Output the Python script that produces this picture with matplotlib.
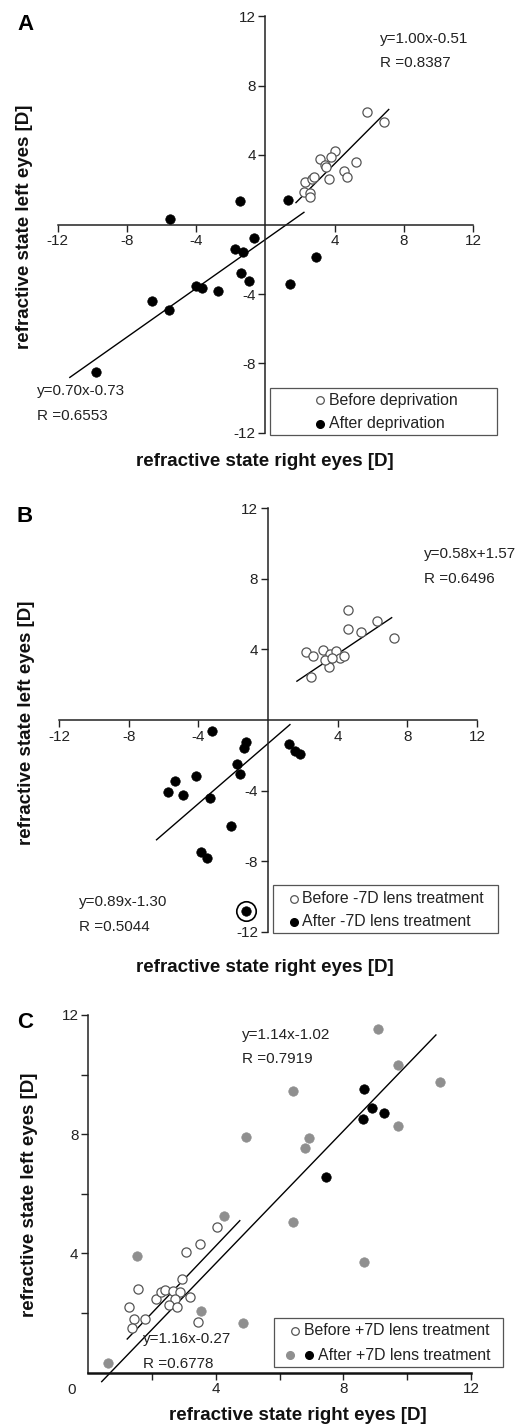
import matplotlib
matplotlib.use('Agg')
import matplotlib.pyplot as plt
from matplotlib.lines import Line2D
from matplotlib.patches import Rectangle

plt.rcParams['font.family'] = ['Liberation Sans', 'DejaVu Sans']

# ---------------- data ----------------
# Panel A
a_before_x = [5.85, 6.87, 4.05, 3.77, 3.18, 3.45, 3.48, 3.66, 5.22, 4.53, 4.70, 2.31, 2.68, 2.80, 2.21, 2.60, 2.56]
a_before_y = [6.48, 5.88, 4.21, 3.88, 3.79, 3.45, 3.30, 2.61, 3.60, 3.06, 2.71, 2.44, 2.60, 2.72, 1.87, 1.80, 1.59]
a_after_x = [-9.80, -6.57, -5.59, -5.49, -4.01, -3.68, -2.72, -1.48, -1.74, -1.30, -1.38, -0.93, -0.66, 1.33, 2.90, 1.40]
a_after_y = [-8.51, -4.43, -4.93, 0.30, -3.52, -3.67, -3.85, 1.34, -1.43, -1.59, -2.80, -3.27, -0.78, 1.42, -1.88, -3.45]
a_fit_before_x = [1.77, 7.13]
a_fit_before_y = [1.26, 6.62]
a_fit_after_x = [-11.30, 2.23]
a_fit_after_y = [-8.80, 0.70]

# Panel B
b_before_x = [4.61, 6.25, 4.61, 5.33, 7.24, 2.21, 2.59, 3.14, 3.56, 3.90, 3.43, 3.49, 4.15, 4.34, 2.48, 3.30, 3.70]
b_before_y = [6.22, 5.59, 5.14, 4.99, 4.64, 3.85, 3.60, 3.94, 3.75, 3.89, 3.32, 3.00, 3.51, 3.62, 2.46, 3.40, 3.50]
b_after_x = [-3.23, -1.28, -1.36, 1.20, 1.57, 1.83, -1.80, -1.62, -4.16, -5.35, -5.72, -4.86, -3.33, -2.12, -3.86, -3.53, -1.28]
b_after_y = [-0.63, -1.26, -1.56, -1.38, -1.75, -1.93, -2.52, -3.06, -3.19, -3.47, -4.08, -4.27, -4.42, -6.01, -7.48, -7.85, -10.80]
b_ringed_x = [-1.28]
b_ringed_y = [-10.80]
b_fit_before_x = [1.66, 7.10]
b_fit_before_y = [2.20, 5.80]
b_fit_after_x = [-6.40, 1.26]
b_fit_after_y = [-6.79, -0.26]

# Panel C
c_before_x = [4.04, 3.50, 3.05, 2.95, 1.57, 2.11, 2.28, 2.40, 2.66, 2.87, 2.72, 2.54, 2.77, 3.19, 1.27, 1.43, 1.78, 1.38, 3.43]
c_before_y = [4.88, 4.32, 4.04, 3.14, 2.81, 2.47, 2.70, 2.77, 2.75, 2.72, 2.47, 2.27, 2.21, 2.55, 2.21, 1.80, 1.80, 1.49, 1.69]
c_after_grey_x = [0.63, 1.52, 3.53, 4.25, 4.84, 4.94, 6.43, 6.43, 6.81, 6.92, 8.64, 9.09, 9.72, 9.70, 11.04]
c_after_grey_y = [0.31, 3.91, 2.08, 5.27, 1.66, 7.92, 9.45, 5.04, 7.55, 7.86, 3.72, 11.52, 10.32, 8.28, 9.74]
c_after_black_x = [8.64, 8.62, 8.90, 9.28, 7.44]
c_after_black_y = [9.51, 8.50, 8.89, 8.72, 6.55]
c_fit_before_x = [1.22, 4.75]
c_fit_before_y = [1.13, 5.10]
c_fit_after_x = [0.42, 10.90]
c_fit_after_y = [-0.30, 11.33]

ticks_ab = [-12, -8, -4, 4, 8, 12]
ticks_c_major = [4, 8, 12]
ticks_c_minor = [2, 6, 10]

xlabel = 'refractive state right eyes [D]'
ylabel = 'refractive state left eyes [D]'

legend_a = ['Before deprivation', 'After deprivation']
legend_b = ['Before -7D lens treatment', 'After -7D lens treatment']
legend_c = ['Before +7D lens treatment', 'After +7D lens treatment']

# ---------------- figure ----------------
W, H = 522, 1425
fig = plt.figure(figsize=(W / 100, H / 100), dpi=100)


def fx(px):
    return px / W


def fy(py):
    return 1 - py / H


def ax_px(left, right, top, bottom):
    return fig.add_axes([left / W, 1 - bottom / H, (right - left) / W, (bottom - top) / H])


OPEN = dict(marker='o', ls='none', mfc='white', mec='#555555', mew=0.9, ms=6.6)
FILL = dict(marker='o', ls='none', mfc='black', mec='black', mew=0.5, ms=6.8)
GREY = dict(marker='o', ls='none', mfc='#8f8f8f', mec='#8f8f8f', mew=0.5, ms=6.8)
TXT = dict(fontsize=11, color='#222222')
LBL = dict(fontsize=13.5, fontweight='bold', color='#111111')

L_OPEN = dict(marker='o', ls='none', mfc='white', mec='#555555', mew=0.9, ms=5.5)
L_FILL = dict(marker='o', ls='none', mfc='black', mec='black', ms=5.5)
L_GREY = dict(marker='o', ls='none', mfc='#8f8f8f', mec='#8f8f8f', ms=5.5)


def style_cross(ax):
    ax.set_xlim(-12, 12)
    ax.set_ylim(-12, 12)
    for s in ['top', 'right']:
        ax.spines[s].set_visible(False)
    ax.spines['left'].set_position(('data', 0))
    ax.spines['bottom'].set_position(('data', 0))
    for s in ['left', 'bottom']:
        ax.spines[s].set_linewidth(1.1)
        ax.spines[s].set_color('#222222')
    ax.set_xticks(ticks_ab)
    ax.set_yticks(ticks_ab)
    ax.set_xticklabels([str(t) for t in ticks_ab])
    ax.set_yticklabels([str(t) for t in ticks_ab])
    ax.tick_params(direction='out', length=5, width=1.0, labelsize=11,
                   colors='#222222', pad=2)
    ax.patch.set_visible(False)


def box_legend(box, rows):
    """box = (x0, y0, x1, y1) in pixels; rows = [(text_x, y, label, [(marker_x, style), ...])]"""
    x0, y0, x1, y1 = box
    fig.add_artist(Rectangle((fx(x0), fy(y1)), (x1 - x0) / W, (y1 - y0) / H,
                             transform=fig.transFigure, facecolor='white',
                             edgecolor='#555555', linewidth=0.9, zorder=5))
    for tx, ty, label, marks in rows:
        for mx, st in marks:
            fig.add_artist(Line2D([fx(mx)], [fy(ty)], transform=fig.transFigure, zorder=6, **st))
        fig.text(fx(tx), fy(ty), label, ha='left', va='center', fontsize=11.4,
                 color='#222222', zorder=6)


# ---------- Panel A ----------
axA = ax_px(57.7, 473, 16, 433)
style_cross(axA)
axA.plot(a_before_x, a_before_y, **OPEN, clip_on=False, zorder=3)
axA.plot(a_after_x, a_after_y, **FILL, clip_on=False, zorder=3)
axA.plot(a_fit_before_x, a_fit_before_y, color='black', lw=1.0)
axA.plot(a_fit_after_x, a_fit_after_y, color='black', lw=1.0, clip_on=False)
axA.text(6.6, 10.7, 'y=1.00x-0.51', va='center', ha='left', **TXT)
axA.text(6.6, 9.3, 'R =0.8387', va='center', ha='left', **TXT)
axA.text(-13.2, -9.6, 'y=0.70x-0.73', va='center', ha='left', **TXT, clip_on=False)
axA.text(-13.2, -11.0, 'R =0.6553', va='center', ha='left', **TXT, clip_on=False)
box_legend((270, 388, 497, 435),
           [(329, 400, legend_a[0], [(319.5, L_OPEN)]),
            (329, 423.5, legend_a[1], [(319.5, L_FILL)])])
fig.text(fx(265), fy(462), xlabel, ha='center', va='center', **LBL)
fig.text(fx(25), fy(227), ylabel, ha='center', va='center', rotation=90, **LBL)
fig.text(fx(17), fy(24), 'A', ha='left', va='center', fontsize=16, fontweight='bold')

# ---------- Panel B ----------
axB = ax_px(59, 477, 508.3, 931.7)
style_cross(axB)
axB.plot(b_before_x, b_before_y, **OPEN, clip_on=False, zorder=3)
axB.plot(b_after_x, b_after_y, **FILL, clip_on=False, zorder=3)
axB.plot(b_ringed_x, b_ringed_y, marker='o', ls='none', mfc='none', mec='black',
         mew=1.2, ms=14, clip_on=False, zorder=3)
axB.plot(b_fit_before_x, b_fit_before_y, color='black', lw=1.0)
axB.plot(b_fit_after_x, b_fit_after_y, color='black', lw=1.0)
axB.text(8.97, 9.4, 'y=0.58x+1.57', va='center', ha='left', **TXT, clip_on=False)
axB.text(8.97, 8.0, 'R =0.6496', va='center', ha='left', **TXT, clip_on=False)
axB.text(-10.86, -10.32, 'y=0.89x-1.30', va='center', ha='left', **TXT)
axB.text(-10.86, -11.74, 'R =0.5044', va='center', ha='left', **TXT, clip_on=False)
box_legend((272.7, 885, 498, 933.3),
           [(302.5, 898.5, legend_b[0], [(293.5, L_OPEN)]),
            (302.5, 921.5, legend_b[1], [(293.5, L_FILL)])])
fig.text(fx(265), fy(967), xlabel, ha='center', va='center', **LBL)
fig.text(fx(27), fy(723), ylabel, ha='center', va='center', rotation=90, **LBL)
fig.text(fx(17), fy(516), 'B', ha='left', va='center', fontsize=16, fontweight='bold')

# ---------- Panel C ----------
axC = ax_px(88.3, 471, 1015, 1372.7)
axC.set_xlim(0, 12)
axC.set_ylim(0, 12)
for s in ['top', 'right']:
    axC.spines[s].set_visible(False)
axC.spines['left'].set_linewidth(1.1)
axC.spines['bottom'].set_linewidth(1.8)
axC.spines['left'].set_color('#222222')
axC.spines['bottom'].set_color('#111111')
axC.set_xticks(ticks_c_major)
axC.set_yticks(ticks_c_major)
axC.set_xticks(ticks_c_minor, minor=True)
axC.set_yticks(ticks_c_minor, minor=True)
axC.tick_params(which='both', direction='out', length=5, width=1.0, labelsize=11,
                colors='#222222', pad=2)
axC.patch.set_visible(False)
axC.plot(c_before_x, c_before_y, **OPEN, clip_on=False, zorder=3)
axC.plot(c_after_grey_x, c_after_grey_y, **GREY, clip_on=False, zorder=3)
axC.plot(c_after_black_x, c_after_black_y, **FILL, clip_on=False, zorder=3)
axC.plot(c_fit_before_x, c_fit_before_y, color='black', lw=1.0)
axC.plot(c_fit_after_x, c_fit_after_y, color='black', lw=1.0, clip_on=False)
axC.text(4.81, 11.33, 'y=1.14x-1.02', va='center', ha='left', **TXT)
axC.text(4.81, 10.53, 'R =0.7919', va='center', ha='left', **TXT)
axC.text(1.70, 1.13, 'y=1.16x-0.27', va='center', ha='left', **TXT)
axC.text(1.72, 0.29, 'R =0.6778', va='center', ha='left', **TXT)
box_legend((274, 1317.7, 502.7, 1366.7),
           [(304.5, 1330.5, legend_c[0], [(294.5, L_OPEN)]),
            (317.5, 1355, legend_c[1], [(289.5, L_GREY), (308.5, L_FILL)])])
fig.text(fx(72), fy(1390), '0', ha='center', va='center', fontsize=11, color='#222222')
fig.text(fx(298), fy(1415), xlabel, ha='center', va='center', **LBL)
fig.text(fx(30), fy(1195), ylabel, ha='center', va='center', rotation=90, **LBL)
fig.text(fx(17), fy(1023), 'C', ha='left', va='center', fontsize=16, fontweight='bold')

fig.savefig('out.png', dpi=100)
